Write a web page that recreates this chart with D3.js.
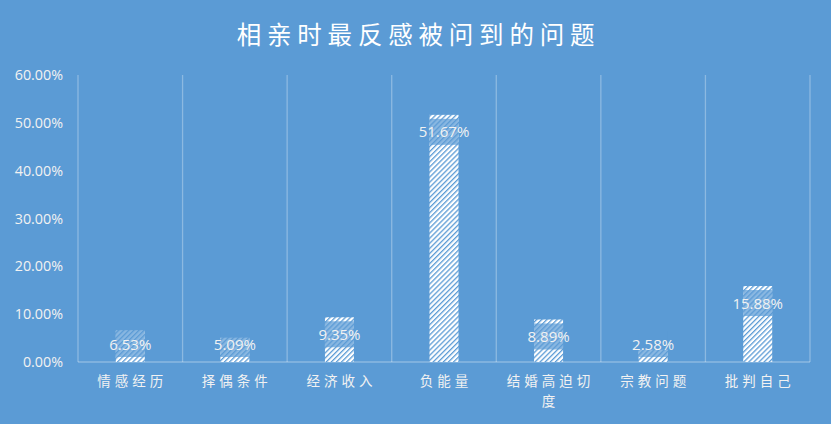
<!DOCTYPE html>
<html><head><meta charset="utf-8">
<script src="https://cdn.jsdelivr.net/npm/d3@7"></script>
<style>
html,body{margin:0;padding:0;background:#5b9bd5;}
svg{display:block;}
</style></head>
<body>
<script>
const title = "相亲时最反感被问到的问题";
const categories = ["情感经历","择偶条件","经济收入","负能量","结婚高迫切度","宗教问题","批判自己"];
const categoryLines = [["情感经历"],["择偶条件"],["经济收入"],["负能量"],["结婚高迫切","度"],["宗教问题"],["批判自己"]];
const values = [6.53, 5.09, 9.35, 51.67, 8.89, 2.58, 15.88];
const yTicks = [0,10,20,30,40,50,60];

const W = 831, H = 424;
const bg = "#5b9bd5";
const margin = {left:78, right:21, top:75, bottom:62};

const svg = d3.select("body").append("svg").attr("width",W).attr("height",H);
svg.append("rect").attr("width",W).attr("height",H).attr("fill",bg);

const defs = svg.append("defs");
const pat = defs.append("pattern").attr("id","hatch")
  .attr("patternUnits","userSpaceOnUse").attr("width",3.6).attr("height",3.6)
  .attr("patternTransform","rotate(45)");
pat.append("rect").attr("width",3.6).attr("height",3.6).attr("fill","#ffffff");
pat.append("rect").attr("x",0).attr("width",1.3).attr("height",3.6).attr("fill",bg);

const x = d3.scaleBand().domain(categories).range([margin.left, W-margin.right]).paddingInner(0).paddingOuter(0);
const y = d3.scaleLinear().domain([0,60]).range([H-margin.bottom, margin.top]);

const gridColor = "rgba(255,255,255,0.3)";
const textColor = "#f2f2f2";
const bounds = categories.map(c => x(c)).concat([x(categories[categories.length-1]) + x.bandwidth()]);
svg.append("g").selectAll("line").data(bounds).join("line")
  .attr("x1",d=>d).attr("x2",d=>d).attr("y1",y(60)).attr("y2",y(0))
  .attr("stroke",gridColor).attr("stroke-width",1.3);

svg.append("line").attr("x1",margin.left).attr("x2",W-margin.right)
  .attr("y1",y(0)).attr("y2",y(0)).attr("stroke",gridColor).attr("stroke-width",1.3);

const yAxis = d3.axisLeft(y).tickValues(yTicks).tickFormat(d=>d.toFixed(2)+"%").tickSize(0).tickPadding(15);
const ya = svg.append("g").attr("transform",`translate(${margin.left},0)`).call(yAxis);
ya.select(".domain").remove();
ya.selectAll("text").attr("fill",textColor).attr("font-family","'Open Sans', 'Liberation Sans', sans-serif")
  .attr("font-size",14.3);

const bw = 29;
svg.append("g").selectAll("rect").data(values).join("rect")
  .attr("x",(d,i)=>x(categories[i]) + x.bandwidth()/2 - bw/2)
  .attr("width",bw)
  .attr("y",d=>y(d))
  .attr("height",d=>y(0)-y(d))
  .attr("fill","url(#hatch)");

const boxH = 26;
const labG = svg.append("g");
values.forEach((v,i)=>{
  const cx = x(categories[i]) + x.bandwidth()/2;
  let top = Math.min(y(v)+4, y(0)-5-boxH);
  labG.append("rect").attr("x",cx-bw/2).attr("width",bw).attr("y",top).attr("height",boxH)
    .attr("fill",bg).attr("opacity",0.72);
  labG.append("text").attr("x",cx).attr("y",top+boxH/2+5.5)
    .attr("text-anchor","middle").attr("fill",textColor)
    .attr("font-family","'Open Sans', 'Liberation Sans', sans-serif").attr("font-size",15)
    .text(v.toFixed(2)+"%");
});

const ls = 4;
const catG = svg.append("g");
categoryLines.forEach((lines,i)=>{
  const cx = x(categories[i]) + x.bandwidth()/2;
  lines.forEach((t,j)=>{
    catG.append("text").attr("x",cx+ls/2).attr("y",y(0)+24+j*20)
      .attr("text-anchor","middle").attr("fill",textColor)
      .attr("font-family","'Noto Sans CJK SC', sans-serif").attr("font-size",13.5)
      .attr("letter-spacing",ls).text(t);
  });
});

svg.append("text").attr("x",W/2+3).attr("y",44).attr("text-anchor","middle")
  .attr("fill","#ffffff").attr("font-family","'Noto Sans CJK SC', sans-serif")
  .attr("font-size",24.5).attr("letter-spacing",5.8).text(title);
</script>
</body></html>
